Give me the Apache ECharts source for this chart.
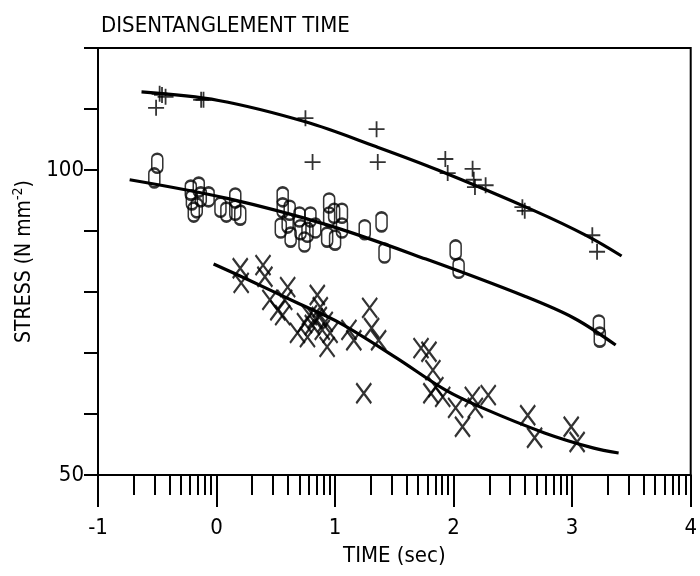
<!DOCTYPE html>
<html>
<head>
<meta charset="utf-8">
<script src="https://cdn.jsdelivr.net/npm/echarts@6/dist/echarts.min.js"></script>
<style>
  html, body { margin: 0; padding: 0; background: #fff; }
  #chart { width: 700px; height: 576px; }
</style>
</head>
<body>
<div id="chart"></div>
<script>
// '+' samples (top group)
var plusTime   = [-0.51, -0.48, -0.46, -0.43, -0.13, -0.11, 0.75, 0.81, 1.35, 1.36, 1.93, 1.95, 2.16, 2.17, 2.18, 2.27, 2.58, 2.60, 3.17, 3.21]
var plusStress = [110.2, 112.5, 112.3, 112.0, 111.5, 111.5, 108.5, 101.3, 106.7, 101.3, 101.8, 99.5, 100.2, 98.4, 97.2, 97.5, 93.9, 93.3, 89.3, 86.6]

// 'O' samples (middle group)
var ohTime   = [-0.50, -0.525, -0.217, -0.208, -0.192, -0.15, -0.133, -0.167, -0.067, 0.033, 0.083, 0.158, 0.158, 0.20,
                0.558, 0.558, 0.542, 0.617, 0.60, 0.625, 0.70, 0.708, 0.742, 0.792, 0.767, 0.833, 0.95, 0.95, 0.933,
                0.992, 1.058, 1.058, 1.00, 1.25, 1.392, 1.417, 2.017, 2.042, 3.225, 3.233]
var ohStress = [101.1, 98.7, 96.7, 95.1, 93.1, 97.2, 95.6, 93.8, 95.6, 93.9, 93.1, 95.4, 93.4, 92.6,
                95.6, 93.8, 90.5, 93.4, 91.3, 89.0, 92.3, 90.2, 88.2, 92.3, 89.8, 90.5, 94.6, 92.3, 89.0,
                92.9, 92.9, 90.5, 88.5, 90.2, 91.5, 86.4, 86.9, 83.9, 74.6, 72.6]

// 'X' samples (bottom group)
var exTime   = [0.20, 0.208, 0.392, 0.408, 0.45, 0.517, 0.575, 0.60, 0.558, 0.742, 0.767, 0.683, 0.85, 0.875, 0.867,
                0.933, 0.958, 0.808, 0.833, 0.892, 0.783, 0.917, 1.117, 1.158, 1.292, 1.308, 1.367, 1.242,
                1.725, 1.792, 1.825, 1.85, 1.808, 1.908, 2.017, 2.075, 2.158, 2.183, 2.292, 2.625, 2.683, 2.992, 3.042]
var exStress = [83.9, 81.5, 84.4, 82.5, 78.7, 77.0, 78.7, 80.8, 76.2, 74.9, 72.6, 73.3, 79.5, 77.5, 75.9,
                71.0, 73.3, 74.6, 75.7, 73.8, 76.2, 75.1, 73.8, 72.1, 77.4, 74.1, 72.1, 63.4,
                70.8, 70.2, 67.2, 64.4, 63.4, 62.8, 61.0, 57.9, 62.8, 61.0, 63.1, 59.8, 56.1, 57.9, 55.4]

// fitted curves
var plusFitTime   = [-0.633, 0.017, 0.75, 1.35, 1.867, 2.683, 3.125, 3.417]
var plusFitStress = [112.8, 111.4, 107.9, 103.8, 100.0, 93.3, 89.2, 85.9]
var ohFitTime     = [-0.733, 0.1, 0.933, 1.767, 2.6, 3.017, 3.367]
var ohFitStress   = [98.4, 95.3, 91.0, 85.4, 79.3, 75.7, 71.3]
var exFitTime     = [-0.025, 0.267, 0.683, 1.042, 1.517, 1.933, 2.242, 2.767, 3.183, 3.392]
var exFitStress   = [84.6, 82.0, 78.2, 74.9, 69.2, 63.9, 61.0, 56.9, 54.4, 53.6]

// axis labels
var xDecades = [-1, 0, 1, 2, 3]
var yLabels = [50, 100]

var FONT = "'DejaVu Sans Condensed', 'Liberation Sans Narrow', 'DejaVu Sans', sans-serif"

function pairs(xs, ys) {
  var out = []
  for (var i = 0; i < xs.length; i++) out.push([xs[i], ys[i]])
  return out
}

// log-style minor ticks inside each decade
var minorTicks = []
xDecades.forEach(function (d) {
  for (var k = 2; k <= 9; k++) minorTicks.push(d + Math.log10(k))
})

var chart = echarts.init(document.getElementById('chart'))

function fitLine(xs, ys) {
  return {
    type: 'line',
    data: pairs(xs, ys),
    smooth: 0.35,
    showSymbol: false,
    silent: true,
    lineStyle: { color: '#000', width: 3.2 },
    z: 2
  }
}

function marks(xs, ys, symbol, size, w) {
  return {
    type: 'scatter',
    data: pairs(xs, ys),
    symbol: symbol,
    symbolSize: size,
    itemStyle: { color: 'none', borderColor: '#000', borderWidth: w },
    z: 3
  }
}

var option = {
  backgroundColor: '#fff',
  animation: false,
  title: {
    text: 'DISENTANGLEMENT TIME',
    left: 96,
    top: 10,
    textStyle: { fontFamily: FONT, fontSize: 22, fontWeight: 'normal', color: '#000' }
  },
  grid: {
    left: 98, right: 2, top: 48, bottom: 101,
    show: true, borderColor: '#000', borderWidth: 2, backgroundColor: 'transparent'
  },
  xAxis: [{
    type: 'value',
    min: -1, max: 4, interval: 1,
    position: 'bottom',
    name: 'TIME (sec)',
    nameLocation: 'middle',
    nameGap: 70,
    nameTextStyle: { fontFamily: FONT, fontSize: 22, color: '#000' },
    axisLine: { onZero: false, lineStyle: { color: '#000', width: 2 } },
    axisTick: { length: 32, lineStyle: { color: '#000', width: 2 } },
    axisLabel: { margin: 42, fontFamily: FONT, fontSize: 22, color: '#000' },
    splitLine: { show: false }
  }, {
    type: 'value',
    min: -1, max: 4,
    position: 'bottom',
    axisLine: { show: false, onZero: false },
    axisTick: { show: true, customValues: minorTicks, length: 20, lineStyle: { color: '#000', width: 2 } },
    axisLabel: { show: false },
    splitLine: { show: false }
  }],
  yAxis: {
    type: 'value',
    min: 50, max: 120, interval: 10,
    name: 'STRESS (N mm{sup|-2})',
    nameLocation: 'middle',
    nameGap: 60,
    nameTextStyle: {
      fontFamily: FONT, fontSize: 21, color: '#000',
      rich: { sup: { fontFamily: FONT, fontSize: 14, color: '#000', padding: [0, 0, 12, 0] } }
    },
    axisLine: { onZero: false, lineStyle: { color: '#000', width: 2 } },
    axisTick: { length: 14, lineStyle: { color: '#000', width: 2 } },
    axisLabel: { customValues: yLabels, margin: 14, fontFamily: FONT, fontSize: 22, color: '#000' },
    splitLine: { show: false }
  },
  series: [
    fitLine(plusFitTime, plusFitStress),
    fitLine(ohFitTime, ohFitStress),
    fitLine(exFitTime, exFitStress),
    marks(plusTime, plusStress, 'path://M5,0L5,10M0,5L10,5', 16, 1.8),
    marks(ohTime, ohStress, 'path://M0,4A4,4 0 0 1 8,4L8,12A4,4 0 0 1 0,12Z', [11, 19], 2),
    marks(exTime, exStress, 'path://M0,0L10,14M10,0L0,14', [15, 20], 2.3)
  ]
}

chart.setOption(option)
</script>
</body>
</html>
